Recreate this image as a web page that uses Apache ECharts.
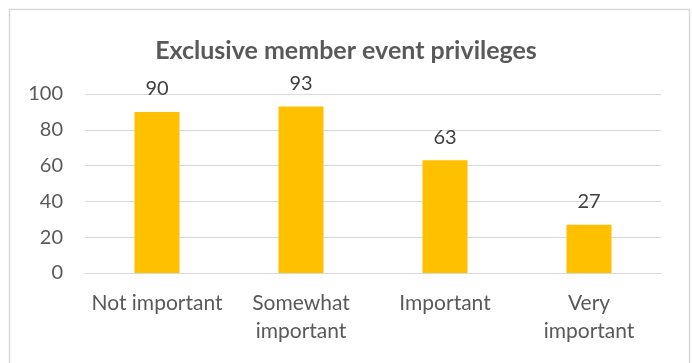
<!DOCTYPE html>
<html><head><meta charset="utf-8">
<script src="https://cdn.jsdelivr.net/npm/echarts@6/dist/echarts.min.js"></script>
<style>html,body{margin:0;padding:0;background:#fff}#c{width:692px;height:363px}</style>
</head><body><div id="c"></div>
<script>
const categories = ['Not important', 'Somewhat\nimportant', 'Important', 'Very\nimportant'];
const values = [90, 93, 63, 27];
const yTicks = [0, 20, 40, 60, 80, 100];
const titleText = 'Exclusive member event privileges';

const chart = echarts.init(document.getElementById('c'));
const FONT = 'Lato';
chart.setOption({
  animation: false,
  backgroundColor: '#fff',
  graphic: [{
    type: 'rect', shape: {x: 9.5, y: 9.5, width: 680, height: 365},
    style: {fill: 'none', stroke: '#d9d9d9', lineWidth: 1.5}, silent: true
  }],
  title: {
    text: titleText, left: 'center', top: 33,
    textStyle: {fontFamily: FONT, fontSize: 25, fontWeight: 'bold', color: '#595959'}
  },
  grid: {left: 85, right: 31, top: 94, bottom: 90, containLabel: false},
  xAxis: {
    type: 'category', data: categories,
    axisLine: {lineStyle: {color: '#d9d9d9', width: 1}},
    axisTick: {show: false},
    axisLabel: {fontFamily: FONT, fontSize: 21, color: '#595959', margin: 16, lineHeight: 28, interval: 0}
  },
  yAxis: {
    type: 'value', min: yTicks[0], max: yTicks[yTicks.length - 1], interval: 20,
    axisLine: {show: false}, axisTick: {show: false},
    splitLine: {lineStyle: {color: '#d9d9d9', width: 1}},
    axisLabel: {fontFamily: FONT, fontSize: 20, color: '#595959', margin: 22}
  },
  series: [{
    type: 'bar', data: values, barWidth: 45,
    itemStyle: {color: '#FFC000'},
    label: {show: true, position: 'top', distance: 13, fontFamily: FONT, fontSize: 20, color: '#404040'}
  }]
});
</script></body></html>
